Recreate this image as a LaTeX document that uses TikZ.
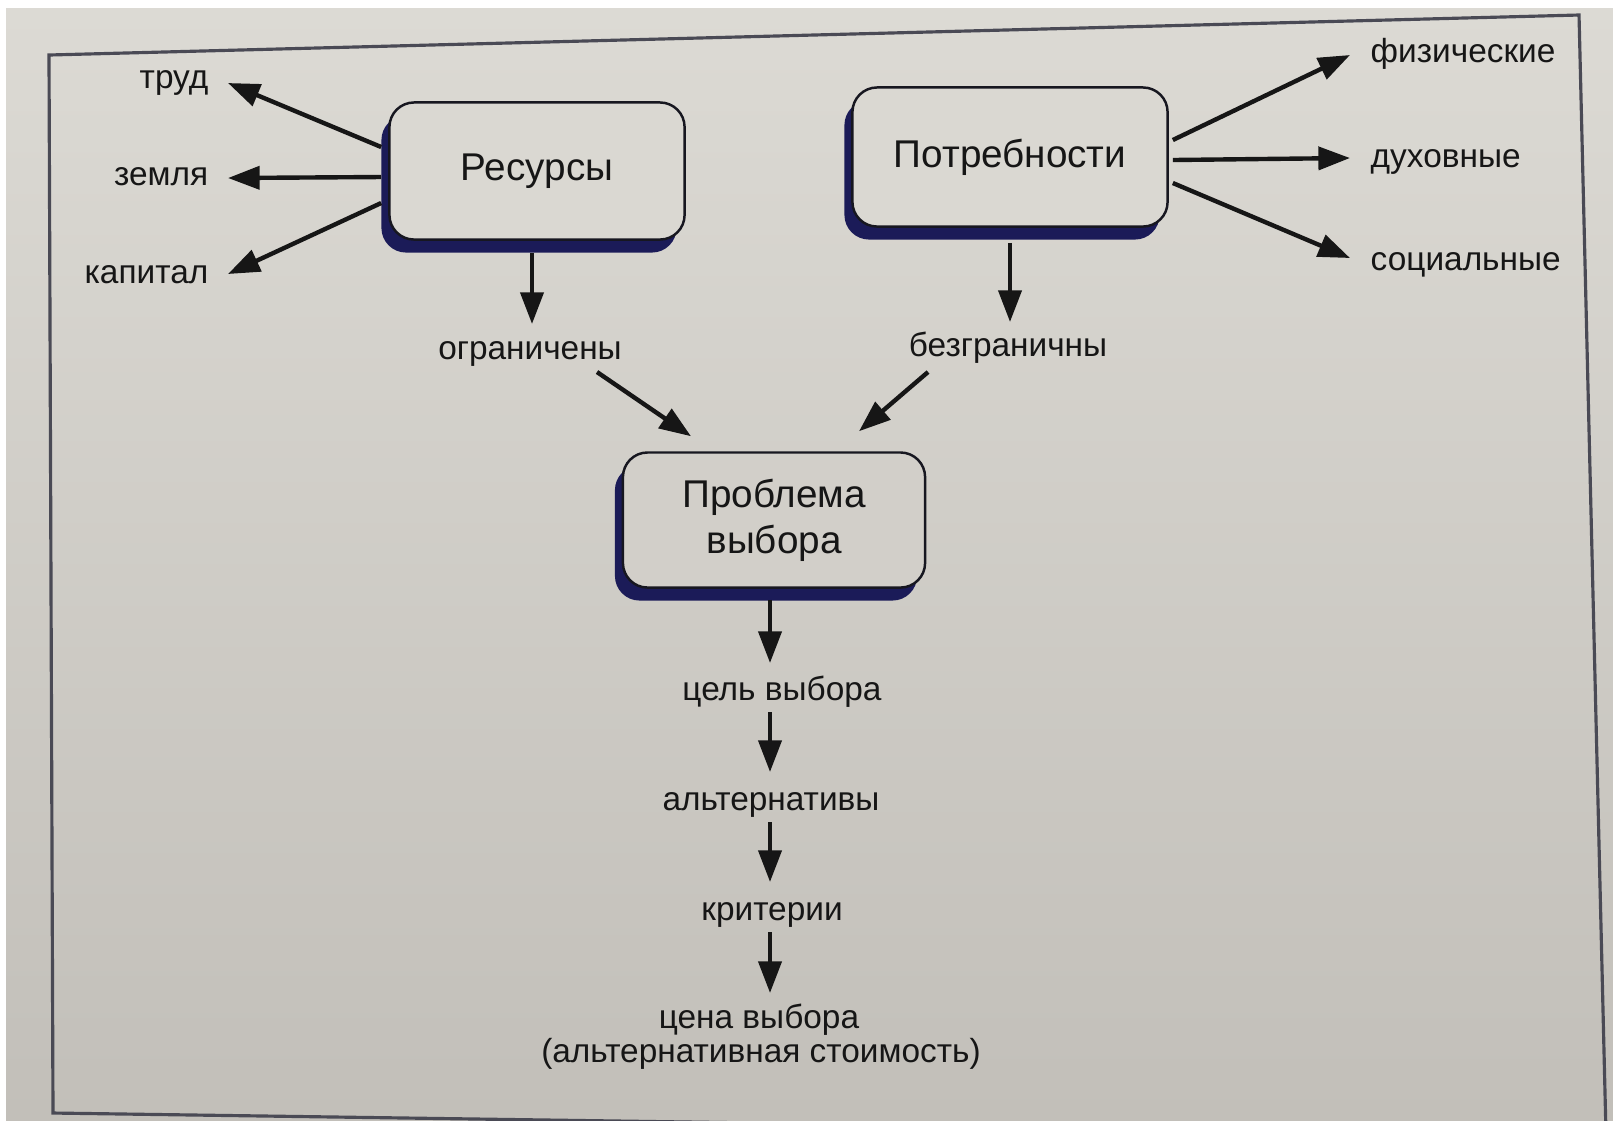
\documentclass[tikz,border=0pt]{standalone}
\usepackage{fontspec}
\setmainfont{Liberation Sans}
\usetikzlibrary{arrows.meta,calc,shadows}
\definecolor{papertop}{HTML}{DCDAD4}
\definecolor{paperbot}{HTML}{C2BFB9}
\definecolor{boxA}{HTML}{DAD8D2}
\definecolor{boxB}{HTML}{D2CFC9}
\definecolor{navy}{HTML}{1B1B58}
\definecolor{ink}{HTML}{161616}
\definecolor{framec}{HTML}{4A4A55}
\begin{document}
\begin{tikzpicture}[x=0.01cm,y=-0.01cm,
  box/.style={draw=ink!85!navy, line width=0.7pt, rounded corners=7pt,
    font=\fontsize{11}{13}\selectfont, text=ink, align=center,
    general shadow={fill=navy, shadow xshift=-0.08cm, shadow yshift=-0.13cm}},
  lbl/.style={font=\fontsize{9.5}{10}\selectfont, text=ink, inner sep=0pt},
  arr/.style={draw=ink, line width=1.25pt, -{Triangle[length=9pt,width=6.5pt]}}]
\useasboundingbox (0,0) rectangle (1613,1120);
\fill[white] (0,0) rectangle (1613,1120);
\shade[top color=papertop, bottom color=paperbot] (6,8) rectangle (1613,1120);
\draw[framec, line width=0.9pt] (49,55) -- (1579,15) -- (1606,1135) -- (53,1113) -- cycle;

% boxes
\node[box, fill=boxA, minimum width=2.95cm, minimum height=1.37cm] (res) at (537,171) {Ресурсы};
\node[box, fill=boxA, minimum width=3.15cm, minimum height=1.39cm] (pot) at (1010,157) {Потребности};
\node[box, fill=boxB, minimum width=3.02cm, minimum height=1.35cm] (prob) at (774,520) {Проблема\\выбора};

% labels
\node[lbl, anchor=base east] (trud) at (209,88) {труд};
\node[lbl, anchor=base east] (zem) at (209,185) {земля};
\node[lbl, anchor=base east] (kap) at (209,283) {капитал};
\node[lbl, anchor=base west] (fiz) at (1370,62) {физические};
\node[lbl, anchor=base west] (duh) at (1370,167) {духовные};
\node[lbl, anchor=base west] (soc) at (1370,270) {социальные};
\node[lbl, anchor=base] (ogr) at (530,359) {ограничены};
\node[lbl, anchor=base] (bez) at (1008,356) {безграничны};
\node[lbl, anchor=base] (cel) at (782,700) {цель выбора};
\node[lbl, anchor=base] (alt) at (771,810) {альтернативы};
\node[lbl, anchor=base] (krit) at (772,920) {критерии};
\node[lbl, anchor=base] (cena) at (759,1028) {цена выбора};
\node[lbl, anchor=base] (cost) at (761,1062) {(альтернативная стоимость)};

% connectors
\draw[arr] ($(res.west)+(-7,-24)$) -- ($(trud.base east)+(19,-5)$);
\draw[arr] ($(res.west)+(-7,6)$) -- ($(zem.base east)+(19,-7)$);
\draw[arr] ($(res.west)+(-7,32)$) -- ($(kap.base east)+(19,-9)$);
\draw[arr] ($(pot.east)+(4,-17)$) -- ($(fiz.base west)+(-20,-7)$);
\draw[arr] ($(pot.east)+(4,3)$) -- ($(duh.base west)+(-20,-9)$);
\draw[arr] ($(pot.east)+(4,26)$) -- ($(soc.base west)+(-20,-12)$);
\draw[arr] ($(res.south)+(-5,12)$) -- ($(ogr.base)+(2,-35)$);
\draw[arr] ($(pot.south)+(0,15)$) -- ($(bez.base)+(2,-34)$);
\draw[arr] ($(ogr.base)+(67,13)$) -- ($(prob.north)+(-83,-15)$);
\draw[arr] ($(bez.base)+(-80,16)$) -- ($(prob.north)+(85,-20)$);
\draw[arr] ($(prob.south)+(-4,11)$) -- ($(cel.base)+(-12,-37)$);
\draw[arr] ($(cel.base)+(-12,12)$) -- ($(alt.base)+(-1,-38)$);
\draw[arr] ($(alt.base)+(-1,12)$) -- ($(krit.base)+(-2,-38)$);
\draw[arr] ($(krit.base)+(-2,12)$) -- ($(cena.base)+(11,-35)$);
\end{tikzpicture}
\end{document}
